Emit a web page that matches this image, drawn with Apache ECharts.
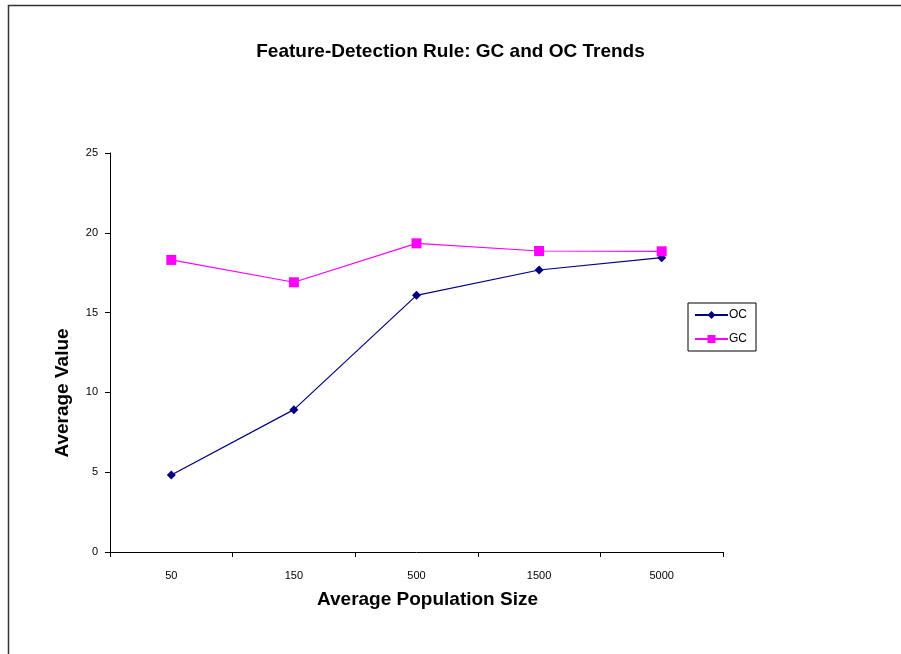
<!DOCTYPE html>
<html><head><meta charset="utf-8">
<script src="https://cdn.jsdelivr.net/npm/echarts@6/dist/echarts.min.js"></script>
<style>html,body{margin:0;padding:0;background:#fff}#c{width:901px;height:654px}</style>
</head><body><div id="c"></div>
<script>
const categories = ['50','150','500','1500','5000'];
const ocValues = [4.82, 8.92, 16.08, 17.67, 18.44];
const gcValues = [18.3, 16.9, 19.34, 18.86, 18.84];
const yTicks = [0, 5, 10, 15, 20, 25];

const chart = echarts.init(document.getElementById('c'), null, {renderer:'canvas'});
const font = 'Liberation Sans, Arial, sans-serif';
chart.setOption({
  animation: false,
  backgroundColor: '#fff',
  graphic: [{
    type: 'rect', shape: {x: 8.5, y: 5.5, width: 1000, height: 1000},
    style: {fill: 'none', stroke: '#333', lineWidth: 1.5}, z: -1
  }, {
    type: 'text', x: 63, y: 393, rotation: Math.PI / 2,
    style: {text: 'Average Value', align: 'center', verticalAlign: 'middle',
      font: 'bold 19px ' + font, fill: '#000'}
  }],
  title: {
    text: 'Feature-Detection Rule: GC and OC Trends',
    left: 'center', top: 37,
    textStyle: {fontFamily: font, fontSize: 19, fontWeight: 'bold', color: '#000'}
  },
  legend: {
    orient: 'vertical', left: 688, top: 303,
    borderColor: '#000', borderWidth: 1, padding: [6, 9, 6, 6],
    itemWidth: 33, itemHeight: 10, itemGap: 12,
    textStyle: {fontFamily: font, fontSize: 12, color: '#000', padding: [0,0,0,-4]},
    data: ['OC', 'GC']
  },
  grid: {left: 110, right: 178, top: 153, bottom: 102},
  xAxis: {
    type: 'category', data: categories, boundaryGap: true,
    name: 'Average Population Size', nameLocation: 'middle', nameGap: 38,
    nameTextStyle: {fontFamily: font, fontSize: 19, fontWeight: 'bold', color: '#000', padding: [0,0,0,22]},
    axisLine: {lineStyle: {color: '#000', width: 1}},
    axisTick: {show: true, inside: false, length: 5, alignWithLabel: false, lineStyle: {color: '#000'}},
    axisLabel: {fontFamily: font, fontSize: 11, color: '#000', margin: 18}
  },
  yAxis: {
    type: 'value', min: 0, max: 25, interval: 5,
    axisLine: {show: true, lineStyle: {color: '#000', width: 1}},
    axisTick: {show: true, inside: false, length: 5, lineStyle: {color: '#000'}},
    splitLine: {show: false},
    axisLabel: {fontFamily: font, fontSize: 11, color: '#000', margin: 12,
      formatter: v => yTicks.includes(v) ? String(v) : ''}
  },
  series: [{
    name: 'OC', type: 'line', data: ocValues,
    symbol: 'diamond', symbolSize: 9,
    lineStyle: {color: '#000080', width: 1.2},
    itemStyle: {color: '#000080'}
  }, {
    name: 'GC', type: 'line', data: gcValues,
    symbol: 'rect', symbolSize: 10,
    lineStyle: {color: '#ff00ff', width: 1.2},
    itemStyle: {color: '#ff00ff'}
  }]
});
</script></body></html>
